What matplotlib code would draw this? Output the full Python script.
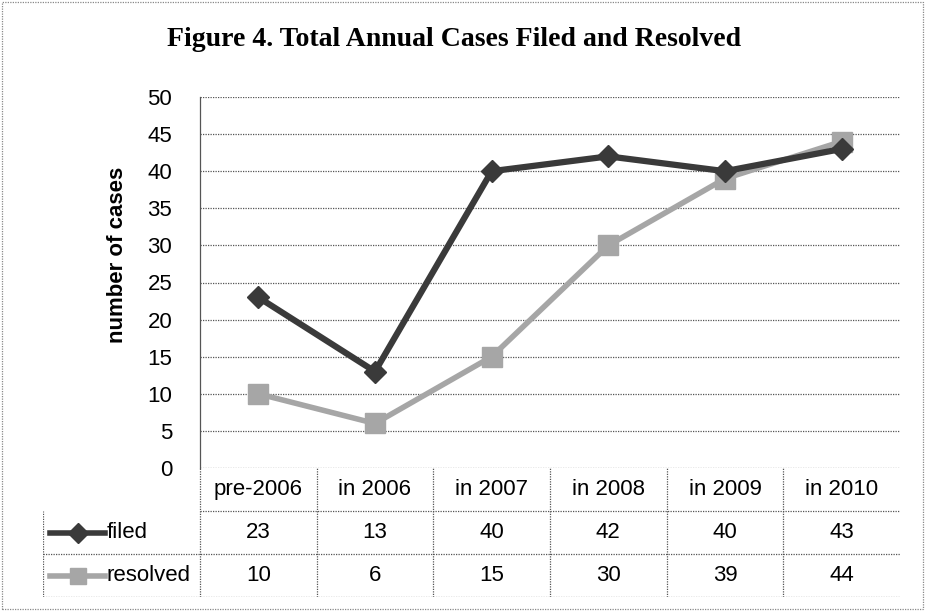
import matplotlib.pyplot as plt
from matplotlib.patches import Rectangle

categories = ['pre-2006', 'in 2006', 'in 2007', 'in 2008', 'in 2009', 'in 2010']
filed = [23, 13, 40, 42, 40, 43]
resolved = [10, 6, 15, 30, 39, 44]
y_ticks = list(range(0, 51, 5))
series_names = ['filed', 'resolved']

sans = ['Liberation Sans Narrow', 'Liberation Sans', 'DejaVu Sans']
dark = '#3a3a3a'
light = '#a6a6a6'
grid_style = dict(color='#555555', linestyle=(0, (1, 1)), linewidth=0.9)

fig = plt.figure(figsize=(9.25, 6.11), dpi=100)
W, H = 925, 611

# pixel layout of the plot area
x0, x1 = 200, 900
y_top, y_zero = 97, 468
col_w = (x1 - x0) / len(categories)

ax = fig.add_axes([x0 / W, 1 - y_zero / H, (x1 - x0) / W, (y_zero - y_top) / H])
ax.set_xlim(-0.5, len(categories) - 0.5)
ax.set_ylim(0, 50)
ax.set_yticks(y_ticks)
ax.set_xticks([])
ax.tick_params(axis='y', length=0, pad=20)
for lab in ax.get_yticklabels():
    lab.set_family(sans)
    lab.set_fontsize(16)
for s in ['top', 'right', 'bottom']:
    ax.spines[s].set_visible(False)
ax.spines['left'].set_color('#555555')
ax.spines['left'].set_linestyle((0, (1, 1)))
ax.spines['left'].set_linewidth(0.9)
for t in y_ticks:
    ax.axhline(t, **grid_style, zorder=1)

xs = range(len(categories))
ax.plot(xs, resolved, color=light, lw=4, marker='s', ms=14, zorder=3, clip_on=False)
ax.plot(xs, filed, color=dark, lw=4.5, marker='D', ms=11, zorder=4, clip_on=False)

fig.text(117 / W, 1 - 255 / H, 'number of cases', rotation=90, ha='center', va='center',
         family=sans, fontsize=16, fontweight='bold')
fig.text(454 / W, 1 - 40 / H, 'Figure 4. Total Annual Cases Filed and Resolved', ha='center',
         va='center', family='Liberation Serif', fontsize=20, fontweight='bold')

# data table under the plot
t_left, t_bottom = 43, 597
tab = fig.add_axes([t_left / W, 1 - t_bottom / H, (x1 - t_left) / W, (t_bottom - y_zero) / H])
x_left = -0.5 - (x0 - t_left) / col_w
tab.set_xlim(x_left, len(categories) - 0.5)
tab.set_ylim(0, 3)
tab.axis('off')


def px(p):
    return -0.5 + (p - x0) / col_w


n = len(categories)
tab.plot([-0.5, n - 0.5], [2, 2], **grid_style)
tab.plot([x_left, n - 0.5], [1, 1], **grid_style)
tab.plot([x_left, n - 0.5], [0, 0], **grid_style)
tab.plot([-0.5, -0.5], [0, 3], **grid_style)
tab.plot([x_left, x_left], [0, 2], **grid_style)
for i in range(1, n):
    tab.plot([i - 0.5, i - 0.5], [0, 3], **grid_style)

for i, c in enumerate(categories):
    tab.text(i, 2.5, c, ha='center', va='center', family=sans, fontsize=16)
    tab.text(i, 1.5, str(filed[i]), ha='center', va='center', family=sans, fontsize=16)
    tab.text(i, 0.5, str(resolved[i]), ha='center', va='center', family=sans, fontsize=16)

keys = [(dark, 'D', 10), (light, 's', 12)]
for row, name, (col, mk, ms) in zip([1.5, 0.5], series_names, keys):
    tab.plot([px(50), px(105)], [row, row], color=col, lw=4)
    tab.plot([px(78)], [row], color=col, marker=mk, ms=ms)
    tab.text(px(107), row, name, ha='left', va='center', family=sans, fontsize=16)

fig.patches.append(Rectangle((2 / W, 2 / H), 1 - 4 / W, 1 - 4 / H, transform=fig.transFigure,
                             fill=False, edgecolor='#888888', linestyle=(0, (1, 1)), linewidth=0.9))

fig.savefig('out.png', dpi=100)
